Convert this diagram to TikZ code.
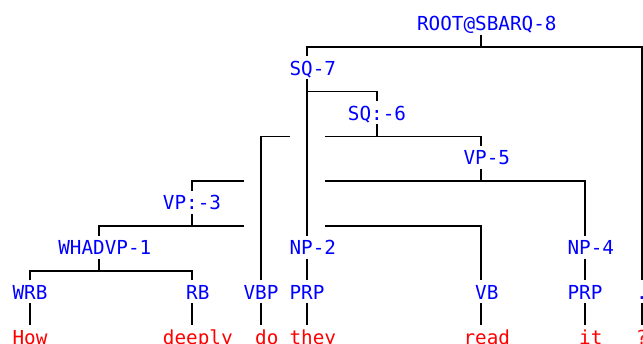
\documentclass[tikz,border=0pt]{standalone}
\usepackage{fontspec}
\newfontfamily\treefont{DejaVu Sans Mono}
\usetikzlibrary{calc}
\definecolor{labblue}{RGB}{0,0,255}
\definecolor{leafred}{RGB}{255,0,0}
\tikzset{
  cat/.style={text=labblue, inner sep=0pt, anchor=base, font=\treefont\fontsize{19.3}{20}\selectfont},
  leaf/.style={text=leafred, inner sep=0pt, anchor=base, font=\treefont\fontsize{19.3}{20}\selectfont},
  edge/.style={draw=black, line width=1.5pt, line cap=butt, line join=miter}
}
% name, line x, baseline, text, style, even-length flag
\newcommand{\treelab}[6]{%
  \node[#5] (#1) at ({#2+#6*5.8}, {-#3}) {#4};
  \coordinate (#1-t) at (#2, {-#3+19});
  \coordinate (#1-b) at (#2, {-#3-4});
}
\begin{document}
\begin{tikzpicture}[x=1pt, y=1pt]
\useasboundingbox (0,0) rectangle (643,-343);
% bar heights
\coordinate (bar8) at (0,-47);
\coordinate (bar7) at (0,-91.6);
\coordinate (bar6) at (0,-136.4);
\coordinate (bar5) at (0,-181.2);
\coordinate (bar3) at (0,-226);
\coordinate (bar1) at (0,-270.8);
% labels
\treelab{root}{481}{30.5}{ROOT@SBARQ-8}{cat}{1}
\treelab{sqseven}{307}{75.3}{SQ-7}{cat}{1}
\treelab{sqsix}{377}{120.1}{SQ:-6}{cat}{0}
\treelab{vpfive}{481}{164.9}{VP-5}{cat}{1}
\treelab{vpthree}{192}{209.7}{VP:-3}{cat}{0}
\treelab{whadvp}{99}{254.5}{WHADVP-1}{cat}{1}
\treelab{nptwo}{307}{254.5}{NP-2}{cat}{1}
\treelab{npfour}{585}{254.5}{NP-4}{cat}{1}
\treelab{wrb}{30}{299.3}{WRB}{cat}{0}
\treelab{rb}{192}{299.3}{RB}{cat}{1}
\treelab{vbp}{261}{299.3}{VBP}{cat}{0}
\treelab{prpone}{307}{299.3}{PRP}{cat}{0}
\treelab{vb}{481}{299.3}{VB}{cat}{1}
\treelab{prptwo}{585}{299.3}{PRP}{cat}{0}
\treelab{dot}{642}{299.3}{.}{cat}{0}
\treelab{how}{30}{344}{How}{leaf}{0}
\treelab{deeply}{192}{344}{deeply}{leaf}{1}
\treelab{do}{261}{344}{do}{leaf}{1}
\treelab{they}{307}{344}{they}{leaf}{1}
\treelab{read}{481}{344}{read}{leaf}{1}
\treelab{it}{585}{344}{it}{leaf}{1}
\treelab{qm}{642}{344}{?}{leaf}{0}
% ROOT
\draw[edge] (root-b) -- (root-b |- bar8);
\draw[edge] (sqseven-t) -- (sqseven-t |- bar8) -- (dot-t |- bar8) -- (dot-t);
% SQ-7
\draw[edge] (sqseven-b) -- (nptwo-t);
\draw[edge] (sqseven-b |- bar7) -- (sqsix-t |- bar7) -- (sqsix-t);
% SQ:-6
\draw[edge] (sqsix-b) -- (sqsix-b |- bar6);
\draw[edge] (vbp-t) -- (vbp-t |- bar6) -- ($(nptwo-t |- bar6)+(-17,0)$);
\draw[edge] ($(nptwo-t |- bar6)+(18,0)$) -- (vpfive-t |- bar6) -- (vpfive-t);
% VP-5
\draw[edge] (vpfive-b) -- (vpfive-b |- bar5);
\draw[edge] (vpthree-t) -- (vpthree-t |- bar5) -- ($(vbp-t |- bar5)+(-17,0)$);
\draw[edge] ($(nptwo-t |- bar5)+(18,0)$) -- (npfour-t |- bar5) -- (npfour-t);
% VP:-3
\draw[edge] (vpthree-b) -- (vpthree-b |- bar3);
\draw[edge] (whadvp-t) -- (whadvp-t |- bar3) -- ($(vbp-t |- bar3)+(-17,0)$);
\draw[edge] ($(nptwo-t |- bar3)+(18,0)$) -- (vb-t |- bar3) -- (vb-t);
% WHADVP-1
\draw[edge] (whadvp-b) -- (whadvp-b |- bar1);
\draw[edge] (wrb-t) -- (wrb-t |- bar1) -- (rb-t |- bar1) -- (rb-t);
% NP
\draw[edge] (nptwo-b) -- (prpone-t);
\draw[edge] (npfour-b) -- (prptwo-t);
% preterminals to leaves
\draw[edge] (wrb-b) -- (how-t);
\draw[edge] (rb-b) -- (deeply-t);
\draw[edge] (vbp-b) -- (do-t);
\draw[edge] (prpone-b) -- (they-t);
\draw[edge] (vb-b) -- (read-t);
\draw[edge] (prptwo-b) -- (it-t);
\draw[edge] (dot-b) -- (qm-t);
\end{tikzpicture}
\end{document}
